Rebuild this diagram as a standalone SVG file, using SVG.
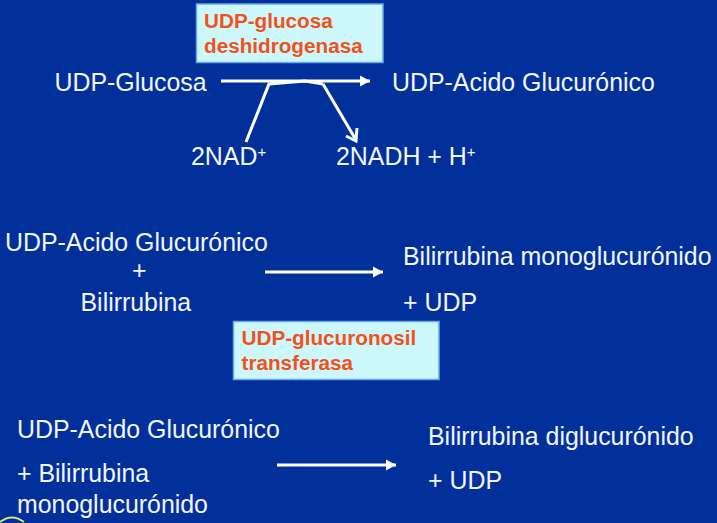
<svg xmlns="http://www.w3.org/2000/svg" width="717" height="523" viewBox="0 0 717 523">
<style>
text{font-family:"Liberation Sans",Arial,sans-serif;font-size:24.900px;fill:#f2f6ff}
.e{font-size:20.700px;font-weight:bold;fill:#f0521c}
.b{fill:#ccf8fc;stroke:#6aa8e8;stroke-width:1.5}
.c{fill:none;stroke:#fff;stroke-width:3}
.s{font-size:15px}
</style>
<defs><marker id="a" markerUnits="userSpaceOnUse" markerWidth="12" markerHeight="12" refX="10" refY="6" orient="auto"><path d="M0 0.500L10 6L0 11.500Z" fill="#fff"/></marker></defs>
<rect width="717" height="523" fill="#02309b"/>
<g id="connectors">
<path class="c" marker-end="url(#a)" d="M221 81H370"/>
<path class="c" d="M246 142L269 84L305 81L323 84"/>
<path class="c" d="M323 84L356 140"/>
<path class="c" d="M346 136L356 141L357 128"/>
<path class="c" marker-end="url(#a)" d="M265 272H383"/>
<path class="c" marker-end="url(#a)" d="M277 465H396"/>
<path d="M0 522Q12 513 24 522" fill="none" stroke="#d8e86a" stroke-width="2"/>
</g>
<g id="enzyme1"><rect class="b" x="196.500" y="4" width="186.500" height="58.500"/><text class="e" x="204" y="28">UDP-glucosa</text><text class="e" x="204" y="53">deshidrogenasa</text></g>
<g id="enzyme2"><rect class="b" x="233.500" y="321.500" width="205.500" height="58"/><text class="e" x="241.500" y="345">UDP-glucuronosil</text><text class="e" x="241.500" y="370">transferasa</text></g>
<g id="r1">
<text x="54.500" y="91">UDP-Glucosa</text>
<text x="392" y="91">UDP-Acido Glucurónico</text>
<text x="191" y="165">2NAD<tspan class="s" dy="-8">+</tspan></text>
<text x="336" y="165">2NADH + H<tspan class="s" dy="-8">+</tspan></text>
</g>
<g id="r2">
<text x="5" y="251">UDP-Acido Glucurónico</text>
<text x="132" y="279">+</text>
<text x="80.500" y="311">Bilirrubina</text>
<text x="403" y="265">Bilirrubina monoglucurónido</text>
<text x="403" y="311">+ UDP</text>
</g>
<g id="r3">
<text x="17" y="438">UDP-Acido Glucurónico</text>
<text x="17" y="482">+ Bilirrubina</text>
<text x="17" y="513">monoglucurónido</text>
<text x="428" y="445">Bilirrubina diglucurónido</text>
<text x="428" y="489">+ UDP</text>
</g>
</svg>
